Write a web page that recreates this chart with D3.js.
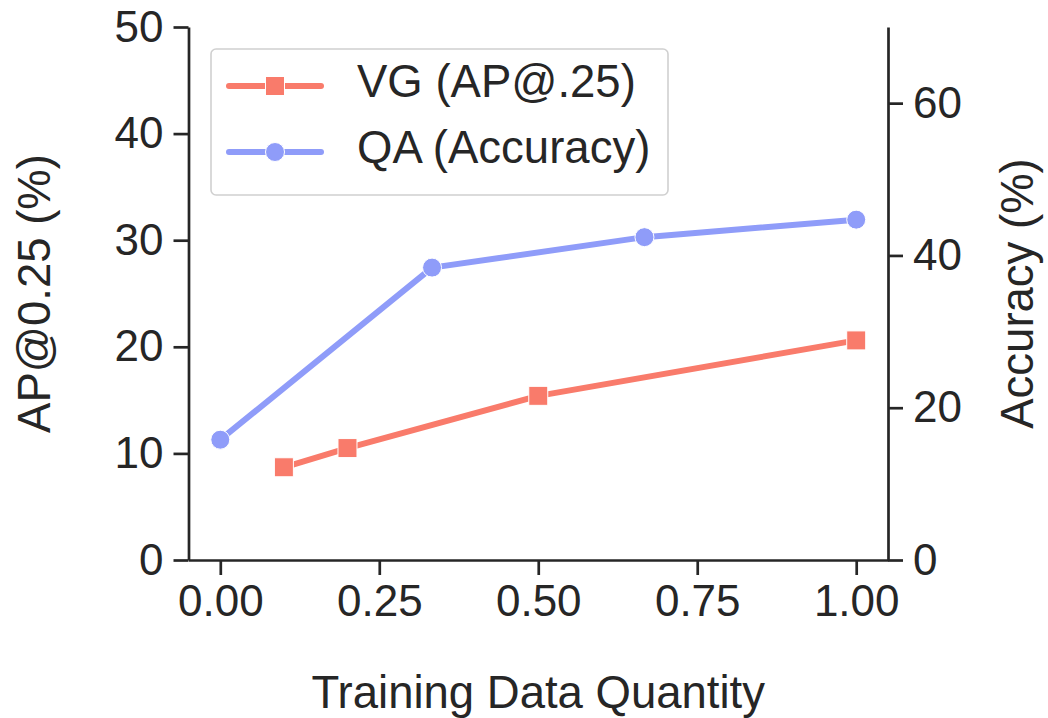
<!DOCTYPE html>
<html>
<head>
<meta charset="utf-8">
<script src="https://cdn.jsdelivr.net/npm/d3@7"></script>
<style>
  html, body { margin: 0; padding: 0; background: #fff; }
  svg { display: block; }
  text { font-family: "Liberation Sans", Arial, Helvetica, sans-serif; fill: #262626; }
</style>
</head>
<body>
<svg id="chart" width="1048" height="718"></svg>
<script>
// ---- data ----
const vgX = [0.1, 0.2, 0.5, 1.0];
const vgY = [8.7, 10.5, 15.4, 20.6];
const qaX = [0.0, 0.333, 0.667, 1.0];
const qaY = [15.8, 38.4, 42.4, 44.7];
const xTicks = [0.0, 0.25, 0.5, 0.75, 1.0];
const leftTicks = [0, 10, 20, 30, 40, 50];
const rightTicks = [0, 20, 40, 60];
const seriesNames = ["VG (AP@.25)", "QA (Accuracy)"];
const seriesColors = ["#f97b6b", "#8f9cf9"];
const xLabel = "Training Data Quantity";
const leftLabel = "AP@0.25 (%)";
const rightLabel = "Accuracy (%)";

// ---- layout ----
const W = 1048, H = 718;
const L = 188.5, R = 888, T = 27, B = 560;
const FS = 44;     // tick labels
const FL = 45.5;   // axis labels & legend
const ink = "#262626";

const svg = d3.select("#chart");

const x = d3.scaleLinear().domain([-0.05, 1.05]).range([L, R]);
const yL = d3.scaleLinear().domain([0, 50]).range([B, T]);
const yR = d3.scaleLinear().domain([0, 70]).range([B, T]);

function styleAxis(g) {
  g.selectAll("path.domain").attr("stroke", ink).attr("stroke-width", 2.7);
  g.selectAll(".tick line").attr("stroke", ink).attr("stroke-width", 2.7);
  g.selectAll(".tick text").attr("font-size", FS).attr("fill", ink)
    .attr("font-family", '"Liberation Sans", Arial, sans-serif');
}

// bottom axis
const gx = svg.append("g").attr("transform", `translate(0,${B})`)
  .call(d3.axisBottom(x).tickValues(xTicks).tickFormat(d3.format(".2f"))
    .tickSizeInner(15).tickSizeOuter(0).tickPadding(10));
styleAxis(gx);

// left axis
const gl = svg.append("g").attr("transform", `translate(${L},0)`)
  .call(d3.axisLeft(yL).tickValues(leftTicks).tickFormat(d3.format("d"))
    .tickSizeInner(15).tickSizeOuter(0).tickPadding(10));
styleAxis(gl);

// right axis
const gr = svg.append("g").attr("transform", `translate(${R},0)`)
  .call(d3.axisRight(yR).tickValues(rightTicks).tickFormat(d3.format("d"))
    .tickSizeInner(15).tickSizeOuter(0).tickPadding(10));
styleAxis(gr);

// axis labels
svg.append("text").attr("x", (L + R) / 2).attr("y", 708)
  .attr("text-anchor", "middle").attr("font-size", FL).text(xLabel);
svg.append("text").attr("transform", `translate(50,${(T + B) / 2}) rotate(-90)`)
  .attr("text-anchor", "middle").attr("font-size", FL).text(leftLabel);
svg.append("text").attr("transform", `translate(1033,${(T + B) / 2}) rotate(-90)`)
  .attr("text-anchor", "middle").attr("font-size", FL).text(rightLabel);

// lines
const vgData = vgX.map((d, i) => [d, vgY[i]]);
const qaData = qaX.map((d, i) => [d, qaY[i]]);

const lineL = d3.line().x(d => x(d[0])).y(d => yL(d[1]));
const lineR = d3.line().x(d => x(d[0])).y(d => yR(d[1]));

svg.append("path").datum(vgData).attr("d", lineL)
  .attr("fill", "none").attr("stroke", seriesColors[0]).attr("stroke-width", 6)
  .attr("stroke-linecap", "round").attr("stroke-linejoin", "round");
svg.append("path").datum(qaData).attr("d", lineR)
  .attr("fill", "none").attr("stroke", seriesColors[1]).attr("stroke-width", 6)
  .attr("stroke-linecap", "round").attr("stroke-linejoin", "round");

const sq = 19;
svg.selectAll("rect.vg").data(vgData).enter().append("rect").attr("class", "vg")
  .attr("x", d => x(d[0]) - sq / 2).attr("y", d => yL(d[1]) - sq / 2)
  .attr("width", sq).attr("height", sq)
  .attr("fill", seriesColors[0]).attr("stroke", "#fff").attr("stroke-width", 1);
svg.selectAll("circle.qa").data(qaData).enter().append("circle").attr("class", "qa")
  .attr("cx", d => x(d[0])).attr("cy", d => yR(d[1])).attr("r", 9.5)
  .attr("fill", seriesColors[1]).attr("stroke", "#fff").attr("stroke-width", 1);

// legend
const lg = svg.append("g");
lg.append("rect").attr("x", 211).attr("y", 49).attr("width", 457).attr("height", 146)
  .attr("rx", 5).attr("fill", "#fff").attr("fill-opacity", 0.8)
  .attr("stroke", "#d0d0d0").attr("stroke-width", 1.6);
const legY = [86, 152];
seriesNames.forEach((name, i) => {
  const cy = legY[i];
  lg.append("line").attr("x1", 229).attr("x2", 321).attr("y1", cy).attr("y2", cy)
    .attr("stroke", seriesColors[i]).attr("stroke-width", 6).attr("stroke-linecap", "round");
  if (i === 0) {
    lg.append("rect").attr("x", 275 - sq / 2).attr("y", cy - sq / 2).attr("width", sq).attr("height", sq)
      .attr("fill", seriesColors[i]).attr("stroke", "#fff").attr("stroke-width", 1);
  } else {
    lg.append("circle").attr("cx", 275).attr("cy", cy).attr("r", 9.5)
      .attr("fill", seriesColors[i]).attr("stroke", "#fff").attr("stroke-width", 1);
  }
  lg.append("text").attr("x", 357).attr("y", cy + 11).attr("font-size", FL).text(name);
});
</script>
</body>
</html>
